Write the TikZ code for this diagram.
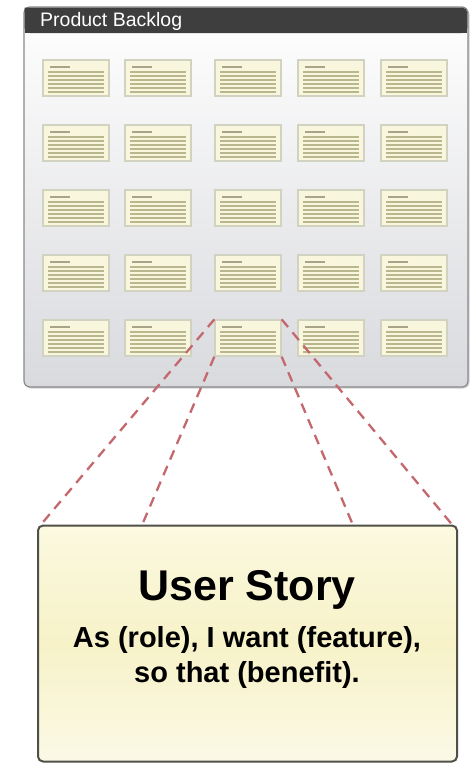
\documentclass[tikz,border=0pt]{standalone}
\usepackage{fontspec}
\setmainfont{Liberation Sans}
\usetikzlibrary{calc,shadows}
\definecolor{cardfill}{HTML}{F8F6DC}
\definecolor{cardedge}{HTML}{D2D2C0}
\definecolor{cardline}{HTML}{B9B78E}
\definecolor{cardtitle}{HTML}{A8A48A}
\definecolor{headerbar}{HTML}{3E3E3E}
\definecolor{panelbot}{HTML}{D9DADE}
\definecolor{paneledge}{HTML}{8A8A8A}
\definecolor{dashred}{HTML}{C4686E}
\definecolor{storytop}{HTML}{FBF9E0}
\definecolor{storymid}{HTML}{F7F2C8}
\definecolor{storybot}{HTML}{FBF9E6}
\definecolor{storyedge}{HTML}{505048}
\tikzset{
  backlogpanel/.style={draw=paneledge, line width=1.2pt, rounded corners=6pt,
    top color=white, bottom color=panelbot,
    drop shadow={shadow xshift=1.5pt, shadow yshift=-1.5pt, opacity=0.35},
    minimum width=444pt, minimum height=380pt, inner sep=0pt},
  storycard/.style={draw=cardedge, line width=1.3pt, fill=cardfill,
    minimum width=66pt, minimum height=36pt, inner sep=0pt,
    drop shadow={shadow xshift=0.8pt, shadow yshift=-0.8pt, opacity=0.18},
    path picture={
      \draw[cardtitle, line width=1.4pt]
        ($(path picture bounding box.north west)+(7,7)$) -- ++(20,0);
      \foreach \k in {12,16,20,24,28,32}
        \draw[cardline, line width=1.3pt]
          ($(path picture bounding box.north west)+(5,\k)$) --
          ($(path picture bounding box.north east)+(-5,\k)$);
    }},
  storybox/.style={draw=storyedge, line width=2pt, rounded corners=5pt,
    top color=storytop, bottom color=storybot, middle color=storymid,
    minimum width=419pt, minimum height=236pt, inner sep=0pt},
  dashline/.style={draw=dashred, line width=2.3pt, dash pattern=on 10pt off 7pt},
  headertext/.style={text=white, font=\fontsize{19.5}{21}\selectfont, anchor=west, inner sep=0pt},
  titletext/.style={font=\fontsize{43}{46}\selectfont\bfseries, anchor=base, inner sep=0pt},
  bodytext/.style={font=\fontsize{29}{35}\selectfont\bfseries, align=center, anchor=base, inner sep=0pt}
}
\begin{document}
\begin{tikzpicture}[x=1pt, y=-1pt]
\useasboundingbox (0,0) rectangle (473,763);
% backlog panel
\node[backlogpanel] (panel) at (246,197) {};
\fill[headerbar, rounded corners=5pt] (24.6,7.6) -- (467.4,7.6) -- (467.4,33) -- (24.6,33) [sharp corners] -- cycle;
\fill[headerbar] (24.6,20) rectangle (467.4,33);
\node[headertext] (hdr) at (40,21) {Product Backlog};
% cards
\foreach \r/\cy in {1/78,2/143,3/208,4/273,5/338}{
  \foreach \c/\cx in {1/76,2/158,3/248,4/331,5/414}{
    \node[storycard] (c\r\c) at (\cx,\cy) {};
  }
}
% user story box
\node[storybox] (us) at (247.5,643.5) {};
\coordinate (usl) at ($(us.north west)!0.25!(us.north east)$);
\coordinate (usr) at ($(us.north west)!0.75!(us.north east)$);
\node[titletext] (ttl) at (247,600) {User Story};
\node[bodytext] (bdy) at (247,647) {As (role), I want (feature),};
\node[bodytext] (bdy2) at (247,682) {so that (benefit).};
% dashed connectors
\draw[dashline] (c53.north west) -- ($(us.north west)+(4,0)$);
\draw[dashline] (c53.south west) -- (usl);
\draw[dashline] (c53.south east) -- (usr);
\draw[dashline] (c53.north east) -- ($(us.north east)+(-6,0)$);
\end{tikzpicture}
\end{document}
